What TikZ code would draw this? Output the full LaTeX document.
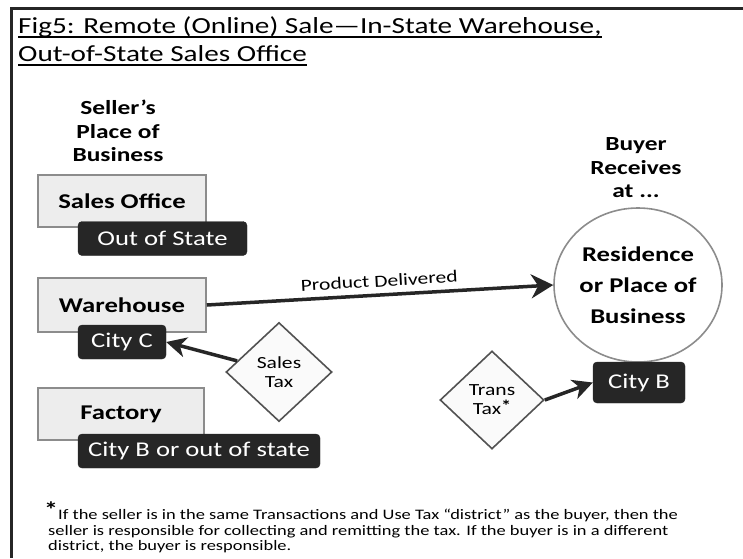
\documentclass[tikz,border=0pt]{standalone}
\usepackage{fontspec}
\setmainfont[FakeStretch=1.27]{Carlito}
\usetikzlibrary{shapes.geometric,arrows.meta}
\definecolor{boxfill}{gray}{0.93}
\definecolor{boxline}{gray}{0.55}
\definecolor{darkbox}{gray}{0.15}
\tikzset{
  lightbox/.style={draw=boxline, fill=boxfill, line width=1.6pt, minimum width=168pt, minimum height=52pt, inner sep=0pt, font=\fontsize{21}{24}\selectfont\bfseries},
  darklabel/.style={fill=darkbox, draw=darkbox, rounded corners=4pt, text=white, minimum height=34pt, inner sep=0pt, font=\fontsize{21}{24}\selectfont},
  header/.style={align=center, font=\fontsize{20}{23.5}\selectfont\bfseries},
  taxdiamond/.style={diamond, draw=darkbox!80, fill=gray!4, line width=1.6pt, inner sep=0pt, align=center, font=\fontsize{17}{19}\selectfont},
  bigarrow/.style={line width=3.5pt, draw=darkbox, -{Stealth[length=22pt,width=24pt,inset=7pt]}},
  midarrow/.style={line width=3.5pt, draw=darkbox, -{Stealth[length=20pt,width=20pt,inset=6pt]}},
  foot/.style={anchor=base west, inner sep=0pt, font=\fontsize{14.5}{15.5}\selectfont},
}
\begin{document}
\begin{tikzpicture}[x=1pt,y=-1pt]
\useasboundingbox (0,0) rectangle (743,558);
% frame
\coordinate (ftl) at (11,8);
\coordinate (ftr) at (743,8);
\coordinate (fbl) at (11,558);
\draw[line width=3pt, darkbox] (ftr) -- (ftl) -- (fbl);
% title
\node[anchor=base west, inner sep=0pt, font=\fontsize{23}{26}\selectfont] (t1) at (18,33) {Fig5: Remote (Online) Sale—In-State Warehouse,};
\node[anchor=base west, inner sep=0pt, font=\fontsize{23}{26}\selectfont] (t2) at (18,61) {Out-of-State Sales Office};
\draw[line width=1.2pt] ([yshift=-4pt]t1.base west) -- ([yshift=-4pt]t1.base east);
\draw[line width=1.2pt] ([yshift=-4pt]t2.base west) -- ([yshift=-4pt]t2.base east);
% headers
\node[header] (seller) at (118,131) {Seller’s\\Place of\\Business};
\node[header] (buyer) at (636,168) {Buyer\\Receives\\at ...};
% seller boxes
\node[lightbox] (office) at (122,201) {Sales Office};
\node[darklabel, minimum width=169pt] (oos) at (162.5,238.5) {Out of State};
\node[lightbox, minimum height=54pt] (warehouse) at (122,305) {Warehouse};
\node[darklabel, minimum width=88pt] (cityc) at (122,342) {City C};
\node[lightbox, minimum width=166pt] (factory) at (121,414) {Factory};
\node[darklabel, minimum width=242pt] (citybf) at (199,451) {City B or out of state};
% buyer
\node[ellipse, draw=boxline, fill=white, line width=1.6pt, minimum width=168pt, minimum height=154pt, inner sep=0pt, align=center, font=\fontsize{21}{31}\selectfont\bfseries] (res) at (638,285) {Residence\\or Place of\\Business};
\node[darklabel, minimum width=92pt, minimum height=41pt] (cityb) at (639,382.5) {City B};
% taxes
\node[taxdiamond, minimum width=106pt, minimum height=99pt] (stax) at (279,372) {Sales\\Tax};
\node[taxdiamond, minimum width=104pt, minimum height=98pt] (ttax) at (492,400) {Trans\\Tax\raisebox{3pt}{\fontsize{16}{16}\selectfont\bfseries *}};
% arrows
\draw[bigarrow] (warehouse.east) -- node[sloped, above=3pt, font=\fontsize{17}{19}\selectfont, text=black] (pd) {Product Delivered} (res.west);
\draw[midarrow] (stax) -- (cityc.east);
\draw[midarrow] (ttax.east) -- (cityb.west);
% footnote
\node[anchor=base west, inner sep=0pt, font=\fontsize{22}{22}\selectfont\bfseries] (ast) at (44,517) {*};
\node[foot] (fn1) at (58,519) {If the seller is in the same Transactions and Use Tax “district” as the buyer, then the};
\node[foot] (fn2) at (48,535) {seller is responsible for collecting and remitting the tax. If the buyer is in a different};
\node[foot] (fn3) at (48,550) {district, the buyer is responsible.};
\end{tikzpicture}
\end{document}
